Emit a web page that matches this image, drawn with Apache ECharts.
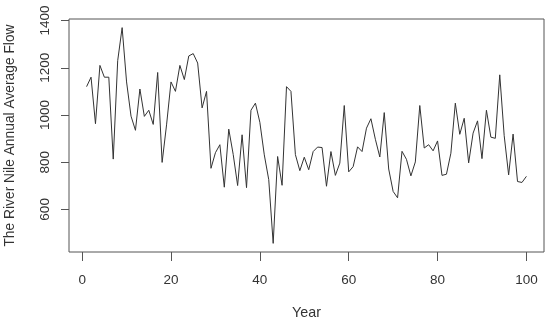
<!DOCTYPE html>
<html>
<head>
<meta charset="utf-8">
<script src="https://cdn.jsdelivr.net/npm/echarts@6/dist/echarts.min.js"></script>
<style>html,body{margin:0;padding:0;background:#fff}#c{width:550px;height:323px}</style>
</head>
<body>
<div id="c"></div>
<script>
const years = Array.from({length: 100}, (_, i) => i + 1);
const flow = [1120,1160,963,1210,1160,1160,813,1230,1370,1140,995,935,1110,994,1020,960,1180,799,958,1140,
1100,1210,1150,1250,1260,1220,1030,1100,774,840,874,694,940,833,701,916,692,1020,1050,969,
831,726,456,824,702,1120,1100,832,764,821,768,845,864,862,698,845,744,796,1040,759,
781,865,845,944,984,897,822,1010,771,676,649,846,812,742,801,1040,860,874,848,890,
744,749,838,1050,918,986,797,923,975,815,1020,906,901,1170,912,746,919,718,714,740];
const xTicks = [0, 20, 40, 60, 80, 100];
const yTicks = [600, 800, 1000, 1200, 1400];

const font = '"Liberation Sans", Arial, sans-serif';
const txt = '#333';
const chart = echarts.init(document.getElementById('c'));
chart.setOption({
  animation: false,
  backgroundColor: '#fff',
  grid: {left: 69, top: 19, right: 6, bottom: 71, outerBoundsMode: 'none', containLabel: false,
    show: true, borderColor: '#555', borderWidth: 1, backgroundColor: 'transparent'},
  xAxis: {
    type: 'value', min: -2.96, max: 103.96,
    name: 'Year', nameLocation: 'middle', nameGap: 54,
    nameTextStyle: {fontFamily: font, fontSize: 14.3, color: txt},
    axisLine: {show: false, onZero: false},
    splitLine: {show: false},
    axisTick: {show: true, length: 9, customValues: xTicks, lineStyle: {color: '#555'}},
    axisLabel: {customValues: xTicks, fontFamily: font, fontSize: 13.5, color: txt, margin: 21,
      formatter: v => String(v)}
  },
  yAxis: {
    type: 'value', min: 419.4, max: 1406.6,
    name: 'The River Nile Annual Average Flow', nameLocation: 'middle', nameGap: 52,
    nameTextStyle: {fontFamily: font, fontSize: 13.8, color: txt},
    axisLine: {show: false, onZero: false},
    splitLine: {show: false},
    axisTick: {show: true, length: 8, customValues: yTicks, lineStyle: {color: '#555'}},
    axisLabel: {customValues: yTicks, rotate: 90, fontFamily: font, fontSize: 13.5, color: txt, margin: 17,
      formatter: v => String(v)}
  },
  series: [{
    type: 'line',
    data: years.map((y, i) => [y, flow[i]]),
    showSymbol: false,
    lineStyle: {color: '#333', width: 1},
    silent: true
  }]
});
</script>
</body>
</html>
